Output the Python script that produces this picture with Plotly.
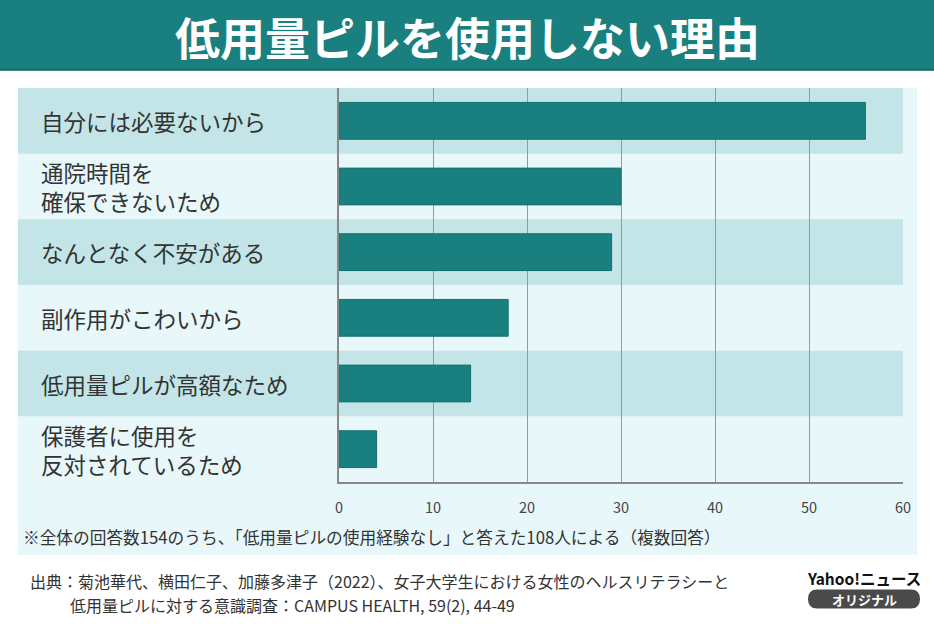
import plotly.graph_objects as go

categories = ["自分には必要ないから", "通院時間を<br>確保できないため", "なんとなく不安がある",
              "副作用がこわいから", "低用量ピルが高額なため", "保護者に使用を<br>反対されているため"]
values = [56, 30, 29, 18, 14, 4]
tick_vals = [0, 10, 20, 30, 40, 50, 60]

TITLE = "低用量ピルを使用しない理由"
NOTE = "※全体の回答数154のうち、「低用量ピルの使用経験なし」と答えた108人による（複数回答）"
SRC1 = "出典：菊池華代、横田仁子、加藤多津子（2022）、女子大学生における女性のヘルスリテラシーと"
SRC2 = "低用量ピルに対する意識調査：CAMPUS HEALTH, 59(2), 44-49"

W, H = 934, 624
L, R, T, B = 339, 31, 88, 142
PW = W - L - R
PH = H - T - B

def px(x):
    return (x - L) / PW

def py(y):
    return (H - B - y) / PH

FONT = "Noto Sans CJK JP"
TEAL = "#1a7f7f"

ypos = list(range(len(categories)))

fig = go.Figure()
fig.add_trace(go.Bar(
    x=values, y=ypos, orientation="h", width=0.56,
    marker=dict(color=TEAL, line=dict(color="#15706f", width=1)),
    hoverinfo="x",
))

shapes = []
# title band
shapes.append(dict(type="rect", xref="paper", yref="paper", x0=px(-5), x1=px(W + 5),
                   y0=py(70), y1=py(-5), fillcolor=TEAL, line_width=0, layer="below"))
shapes.append(dict(type="line", xref="paper", yref="paper", x0=px(0), x1=px(W),
                   y0=py(70), y1=py(70), line=dict(color="#14605f", width=1.5)))
# panel
shapes.append(dict(type="rect", xref="paper", yref="paper", x0=px(18), x1=px(917),
                   y0=py(555), y1=py(88), fillcolor="#e8f7fa", line_width=0, layer="below"))
# bands
for i in ypos:
    if i % 2 == 0:
        shapes.append(dict(type="rect", xref="paper", yref="y", x0=px(18), x1=1,
                           y0=i - 0.5, y1=i + 0.5, fillcolor="#c3e5e8", line_width=0, layer="below"))
# pill
pill = "M -47,-9.5 L 47,-9.5 Q 56,-9.5 56,0 Q 56,9.5 47,9.5 L -47,9.5 Q -56,9.5 -56,0 Q -56,-9.5 -47,-9.5 Z"
shapes.append(dict(type="path", xref="paper", yref="paper", xsizemode="pixel", ysizemode="pixel",
                   xanchor=px(864), yanchor=py(599), path=pill, fillcolor="#4a4a4a", line_width=0))

annotations = []
annotations.append(dict(text=f"<b>{TITLE}</b>", xref="paper", yref="paper", x=px(467), y=py(37),
                        xanchor="center", yanchor="middle", showarrow=False,
                        font=dict(family=FONT, size=45, color="white")))
for i, c in enumerate(categories):
    lines = c.split("<br>")
    n = len(lines)
    for k, ln in enumerate(lines):
        shift = ((n - 1) / 2 - k) * 29
        annotations.append(dict(text=ln, xref="paper", yref="y", x=px(39), y=i, yshift=shift,
                                xanchor="left", yanchor="middle", align="left", showarrow=False,
                                font=dict(family=FONT, size=22.5, color="#333333")))
annotations.append(dict(text=NOTE, xref="paper", yref="paper", x=px(21), y=py(537), xanchor="left",
                        yanchor="middle", showarrow=False, font=dict(family=FONT, size=16.7, color="#333333")))
annotations.append(dict(text=SRC1, xref="paper", yref="paper", x=px(28), y=py(581), xanchor="left",
                        yanchor="middle", showarrow=False, font=dict(family=FONT, size=16, color="#333333")))
annotations.append(dict(text=SRC2, xref="paper", yref="paper", x=px(68), y=py(605), xanchor="left",
                        yanchor="middle", showarrow=False, font=dict(family=FONT, size=16, color="#333333")))
annotations.append(dict(text="<b>Yahoo!ニュース</b>", xref="paper", yref="paper", x=px(864), y=py(578),
                        xanchor="center", yanchor="middle", showarrow=False,
                        font=dict(family=FONT, size=15.5, color="#111111")))
annotations.append(dict(text="<b>オリジナル</b>", xref="paper", yref="paper", x=px(864), y=py(599),
                        xanchor="center", yanchor="middle", showarrow=False,
                        font=dict(family=FONT, size=13, color="white")))

fig.update_layout(
    width=W, height=H, margin=dict(l=L, r=R, t=T, b=B),
    paper_bgcolor="white", plot_bgcolor="rgba(0,0,0,0)",
    showlegend=False, shapes=shapes, annotations=annotations,
    xaxis=dict(range=[0, 60], tickvals=tick_vals, showgrid=True, gridcolor="#999999", gridwidth=1,
               zeroline=False, showline=True, linecolor="#888888", linewidth=1.5,
               ticks="", ticklabelstandoff=12,
               tickfont=dict(family=FONT, size=14.5, color="#444444")),
    yaxis=dict(range=[len(categories) - 0.5, -0.5], showticklabels=False, showgrid=False,
               zeroline=False, showline=True, linecolor="#888888", linewidth=1.5, ticks=""),
)

fig.write_html("out.html", config={"displayModeBar": False},
               post_script="document.body.style.margin='0';document.body.style.padding='0';")
